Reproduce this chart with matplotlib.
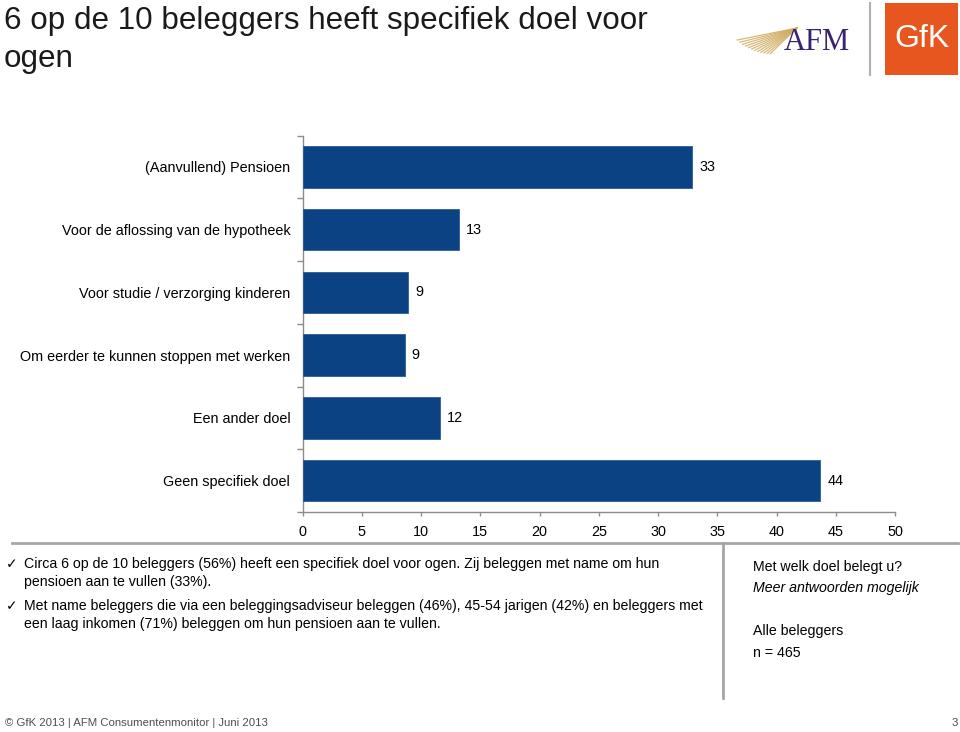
import matplotlib
matplotlib.use("Agg")
import matplotlib.pyplot as plt
import numpy as np
from matplotlib.patches import Rectangle
from matplotlib.lines import Line2D

plt.rcParams['font.family'] = ['Liberation Sans', 'DejaVu Sans']

categories = ["(Aanvullend) Pensioen", "Voor de aflossing van de hypotheek",
              "Voor studie / verzorging kinderen", "Om eerder te kunnen stoppen met werken",
              "Een ander doel", "Geen specifiek doel"]
values = [32.9, 13.2, 8.9, 8.6, 11.6, 43.7]
labels = ["33", "13", "9", "9", "12", "44"]
xticks = [0, 5, 10, 15, 20, 25, 30, 35, 40, 45, 50]

W, H = 960, 732
fig = plt.figure(figsize=(W / 100, H / 100), dpi=100)
bar_color = "#0a4283"
axis_gray = "#8c8c8c"
FS = 10.4

def fx(px):
    return px / W

def fy(py):
    return 1 - py / H

ax = fig.add_axes([fx(302.7), fy(512), fx(895) - fx(302.7), fy(135.6) - fy(512)])
y = np.arange(len(categories))
ax.barh(y, values, height=0.66, color=bar_color, edgecolor="#2d5c94", linewidth=0.6, zorder=3)
for yi, v, lab in zip(y, values, labels):
    ax.text(v + 0.6, yi, lab, va="center", ha="left", fontsize=FS, color="#000000")

ax.set_xlim(0, 50)
ax.set_ylim(len(categories) - 0.5, -0.5)
ax.set_xticks(xticks)
ax.set_xticklabels([str(t) for t in xticks], fontsize=FS)
ax.set_yticks(y)
ax.set_yticklabels(categories, fontsize=FS)
ax.set_yticks(np.arange(-0.5, len(categories), 1), minor=True)
ax.tick_params(axis="y", which="major", length=0, pad=9)
ax.tick_params(axis="y", which="minor", length=4, color=axis_gray, width=1)
ax.tick_params(axis="x", which="major", length=3, color=axis_gray, width=1, pad=6)
for s in ["top", "right"]:
    ax.spines[s].set_visible(False)
for s in ["left", "bottom"]:
    ax.spines[s].set_color(axis_gray)
    ax.spines[s].set_linewidth(1)

# Title
fig.text(fx(4), fy(21.5), "6 op de 10 beleggers heeft specifiek doel voor", fontsize=22.6,
         color="#1a1a1a", ha="left", va="center")
fig.text(fx(4), fy(58.5), "ogen", fontsize=22.6, color="#1a1a1a", ha="left", va="center")

# Logos: AFM rays
cx, cy = 797, 28
for ang in np.linspace(195, 232, 12):
    t = np.radians(ang)
    L = 62 - (ang - 195) * 0.5
    x1 = cx + L * np.cos(t)
    y1 = cy - L * np.sin(t) * 0.75
    fig.add_artist(Line2D([fx(x1), fx(cx)], [fy(y1), fy(cy)], color="#cfae62", lw=0.9, alpha=0.85))
fig.text(fx(784), fy(43), "AFM", fontsize=22, color="#3b2273", family="Liberation Serif",
         ha="left", va="center")
fig.add_artist(Line2D([fx(870), fx(870)], [fy(3), fy(75)], color="#b0b0b0", lw=1.5))
# GfK
fig.add_artist(Rectangle((fx(885), fy(75)), fx(958) - fx(885), fy(3) - fy(75),
                         facecolor="#e8561f", edgecolor="none"))
fig.text(fx(921.5), fy(39), "GfK", fontsize=23, color="white", ha="center", va="center")

# separators
fig.add_artist(Line2D([fx(12), fx(958)], [fy(543), fy(543)], color="#a6a6a6", lw=2))
fig.add_artist(Line2D([fx(723), fx(723)], [fy(543), fy(698)], color="#a6a6a6", lw=2))

# bullets
BFS = 10.2
bullets = [
    (564, "Circa 6 op de 10 beleggers (56%) heeft een specifiek doel voor ogen. Zij beleggen met name om hun"),
    (582, "pensioen aan te vullen (33%)."),
    (606, "Met name beleggers die via een beleggingsadviseur beleggen (46%), 45-54 jarigen (42%) en beleggers met"),
    (624, "een laag inkomen (71%) beleggen om hun pensioen aan te vullen."),
]
for yy, txt in bullets:
    fig.text(fx(24), fy(yy), txt, fontsize=BFS, ha="left", va="center")
for yy in [564, 606]:
    fig.text(fx(6), fy(yy), "\u2713", fontsize=10, ha="left", va="center", family=["DejaVu Sans"])

# right box
fig.text(fx(753), fy(567), "Met welk doel belegt u?", fontsize=BFS, ha="left", va="center")
fig.text(fx(753), fy(588), "Meer antwoorden mogelijk", fontsize=BFS, ha="left", va="center", style="italic")
fig.text(fx(753), fy(631), "Alle beleggers", fontsize=BFS, ha="left", va="center")
fig.text(fx(753), fy(653), "n = 465", fontsize=BFS, ha="left", va="center")

# footer
fig.text(fx(5), fy(722.5), "\u00a9 GfK 2013 | AFM Consumentenmonitor | Juni 2013", fontsize=8.2,
         color="#4d4d4d", ha="left", va="center")
fig.text(fx(958), fy(722.5), "3", fontsize=8.2, color="#4d4d4d", ha="right", va="center")

fig.savefig("out.png", dpi=100)
